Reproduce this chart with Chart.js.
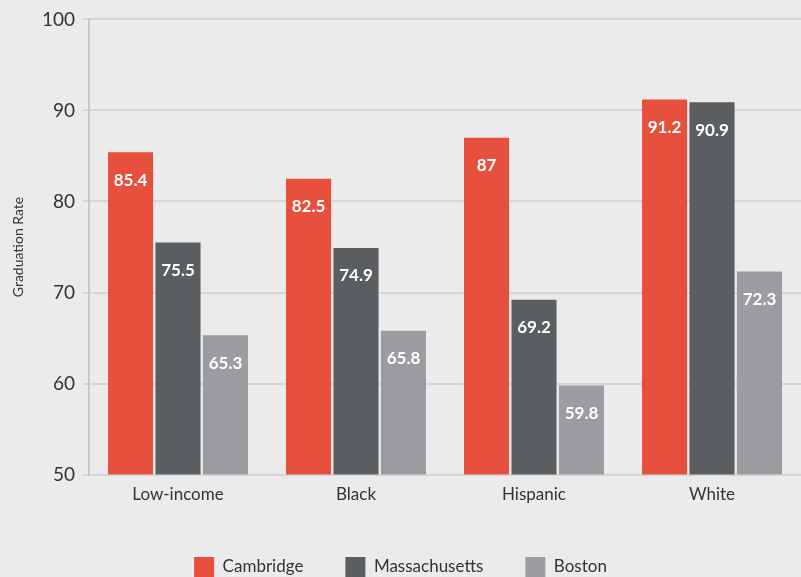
<!DOCTYPE html>
<html>
<head>
<meta charset="utf-8">
<title>Graduation Rate</title>
<script src="https://cdn.jsdelivr.net/npm/chart.js@4.4.1/dist/chart.umd.min.js"></script>
<style>
  html, body { margin: 0; padding: 0; background: #ebebeb; }
  #wrap { width: 801px; height: 577px; }
</style>
</head>
<body>
<div id="wrap"><canvas id="myChart" width="801" height="577"></canvas></div>
<script>
'use strict';

var groups = ['Low-income', 'Black', 'Hispanic', 'White'];
var cambridge = [85.4, 82.5, 87, 91.2];
var massachusetts = [75.5, 74.9, 69.2, 90.9];
var boston = [65.3, 65.8, 59.8, 72.3];
var yTicks = [50, 60, 70, 80, 90, 100];

var red = '#e8503e';
var darkGray = '#5b5e61';
var lightGray = '#9b9da0';

// white value written near the top of each bar
var valueLabels = {
    id: 'valueLabels',
    afterDatasetsDraw: function(chart) {
        var ctx = chart.ctx;
        ctx.save();
        ctx.font = 'bold 17px Lato';
        ctx.fillStyle = '#ffffff';
        ctx.textAlign = 'center';
        ctx.textBaseline = 'middle';
        chart.data.datasets.forEach(function(ds, i) {
            chart.getDatasetMeta(i).data.forEach(function(bar, j) {
                ctx.fillText(String(ds.data[j]), bar.x, bar.y + 28);
            });
        });
        ctx.restore();
    }
};

var ctx = document.getElementById('myChart').getContext('2d');
var chart = new Chart(ctx, {
    type: 'bar',
    data: {
        labels: groups,
        datasets: [
            { label: 'Cambridge', data: cambridge, backgroundColor: red },
            { label: 'Massachusetts', data: massachusetts, backgroundColor: darkGray },
            { label: 'Boston', data: boston, backgroundColor: lightGray }
        ]
    },
    options: {
        responsive: false,
        animation: false,
        categoryPercentage: 0.8,
        barPercentage: 0.95,
        layout: { padding: { top: 14, right: 0, bottom: -10, left: 0 } },
        plugins: {
            tooltip: { enabled: false },
            legend: {
                position: 'bottom',
                labels: {
                    boxWidth: 20,
                    boxHeight: 20,
                    padding: 42,
                    color: '#333333',
                    font: { family: 'Lato', size: 17 }
                }
            }
        },
        scales: {
            x: {
                grid: { display: false, drawTicks: false },
                border: { display: false },
                ticks: {
                    color: '#333333',
                    padding: 10,
                    font: { family: 'Lato', size: 17 }
                }
            },
            y: {
                min: 50,
                max: 100,
                afterBuildTicks: function(scale) {
                    scale.ticks = yTicks.map(function(v) { return { value: v }; });
                },
                afterFit: function(scale) { scale.width = 89; },
                grid: { color: '#d6d6d6', lineWidth: 2, tickLength: 6 },
                border: { color: '#c8c8c8', width: 2 },
                ticks: {
                    color: '#333333',
                    padding: 8,
                    font: { family: 'Lato', size: 19 }
                },
                title: {
                    display: true,
                    text: 'Graduation Rate',
                    color: '#333333',
                    padding: { top: 10, bottom: 0 },
                    font: { family: 'Lato', size: 14 }
                }
            }
        }
    },
    plugins: [valueLabels]
});
</script>
</body>
</html>
